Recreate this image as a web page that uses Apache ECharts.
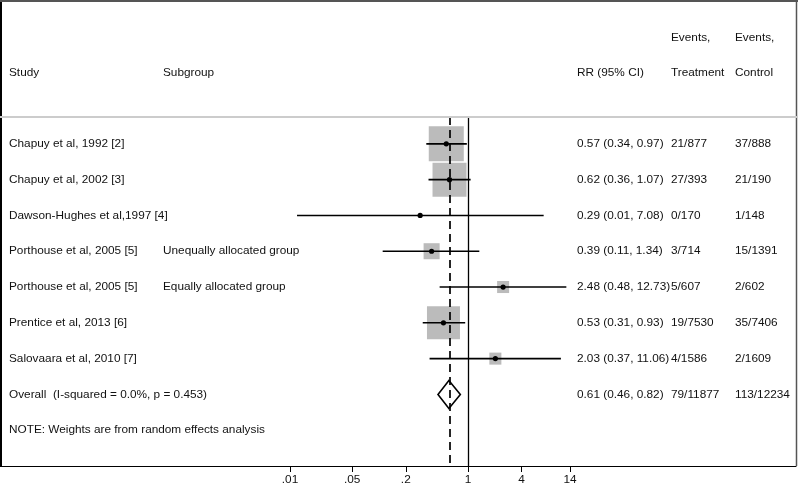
<!DOCTYPE html>
<html><head><meta charset="utf-8">
<script src="https://cdn.jsdelivr.net/npm/echarts@6/dist/echarts.min.js"></script>
<style>html,body{margin:0;padding:0;background:#fff}#c{width:798px;height:487px}</style>
</head><body><div id="c"></div>
<script>
const studies = ['Chapuy et al, 1992 [2]', 'Chapuy et al, 2002 [3]', 'Dawson-Hughes et al,1997 [4]', 'Porthouse et al, 2005 [5]', 'Porthouse et al, 2005 [5]', 'Prentice et al, 2013 [6]', 'Salovaara et al, 2010 [7]'];
const subgroups = ['', '', '', 'Unequally allocated group', 'Equally allocated group', '', ''];
const rr = [0.57, 0.62, 0.29, 0.39, 2.48, 0.53, 2.03];
const ciLow = [0.34, 0.36, 0.012, 0.11, 0.48, 0.31, 0.37];
const ciHigh = [0.97, 1.07, 7.08, 1.34, 12.73, 0.93, 11.06];
const weights = [30.5, 28.8, 0.1, 6.4, 3.6, 27.1, 3.6];
const eventsTreatment = ['21/877', '27/393', '0/170', '3/714', '5/607', '19/7530', '4/1586'];
const eventsControl = ['37/888', '21/190', '1/148', '15/1391', '2/602', '35/7406', '2/1609'];
const overallLabel = 'Overall  (I-squared = 0.0%, p = 0.453)';
const overallRR = 0.61, overallLow = 0.46, overallHigh = 0.82;
const overallEventsT = '79/11877', overallEventsC = '113/12234';
const noteText = 'NOTE: Weights are from random effects analysis';
const tickValues = [0.01, 0.05, 0.2, 1, 4, 14];
const tickLabels = ['.01', '.05', '.2', '1', '4', '14'];

const FONT = '"Liberation Sans", Arial, Helvetica, sans-serif';
const FS = 11.8;
const colX = {study: 9, subgroup: 163, ci: 577, evT: 671, evC: 735};
const fmt = v => v.toFixed(2);
const ciText = (r, l, h) => fmt(r) + ' (' + fmt(l) + ', ' + fmt(h) + ')';

const rows = studies.map((s, i) => ({
  study: s, subgroup: subgroups[i], ci: ciText(rr[i], ciLow[i], ciHigh[i]),
  evT: eventsTreatment[i], evC: eventsControl[i]
}));
rows.push({study: overallLabel, subgroup: '', ci: ciText(overallRR, overallLow, overallHigh), evT: overallEventsT, evC: overallEventsC});
rows.push({study: noteText, subgroup: '', ci: '', evT: '', evC: ''});

const chart = echarts.init(document.getElementById('c'), null, {renderer: 'canvas'});
const textStyle = (t, x, y) => ({type: 'text', x: x, y: y, style: {text: t, fill: '#111', font: FS + 'px ' + FONT, textVerticalAlign: 'middle', verticalAlign: 'middle'}});

chart.setOption({
  animation: false,
  backgroundColor: '#fff',
  grid: {left: 0, right: 2, top: 117, bottom: 21, containLabel: false},
  xAxis: {
    type: 'value', min: -5.258, max: 3.685,
    splitLine: {show: false},
    axisLine: {onZero: false, lineStyle: {color: '#000', width: 1.2}},
    axisTick: {show: true, length: 6, lineStyle: {color: '#000'}, customValues: tickValues.map(v => Math.log10(v))},
    axisLabel: {
      customValues: tickValues.map(v => Math.log10(v)), margin: 8,
      color: '#111', fontSize: FS, fontFamily: FONT,
      formatter: v => {
        let best = 0, bd = 1e9;
        tickValues.forEach((t, i) => { const d = Math.abs(Math.log10(t) - v); if (d < bd) { bd = d; best = i; } });
        return tickLabels[best];
      }
    }
  },
  yAxis: {type: 'value', min: -0.75, max: 9, inverse: true, show: false},
  graphic: [
    {type: 'line', shape: {x1: 1, y1: 0, x2: 1, y2: 466}, style: {stroke: '#000', lineWidth: 2}, z: 100},
    {type: 'line', shape: {x1: 0, y1: 1, x2: 798, y2: 1}, style: {stroke: '#555', lineWidth: 2}, z: 100},
    {type: 'line', shape: {x1: 796.5, y1: 0, x2: 796.5, y2: 466}, style: {stroke: '#555', lineWidth: 1.5}, z: 100},
    {type: 'line', shape: {x1: 0, y1: 117, x2: 798, y2: 117}, style: {stroke: '#ccc', lineWidth: 2}, z: 100},
    textStyle('Study', colX.study, 73),
    textStyle('Subgroup', colX.subgroup, 73),
    textStyle('RR (95% CI)', colX.ci, 73),
    textStyle('Events,', colX.evT, 38),
    textStyle('Treatment', colX.evT, 73),
    textStyle('Events,', colX.evC, 38),
    textStyle('Control', colX.evC, 73)
  ],
  series: [
    {
      type: 'line', data: [], z: 1,
      markLine: {
        silent: true, symbol: 'none', label: {show: false},
        data: [
          {xAxis: 0, lineStyle: {color: '#000', width: 1.3, type: 'solid'}},
          {xAxis: Math.log10(overallRR), lineStyle: {color: '#000', width: 1.7, type: [8, 5]}}
        ]
      }
    },
    {
      type: 'custom', z: 3,
      data: rr.map((v, i) => [Math.log10(v), i, Math.log10(ciLow[i]), Math.log10(ciHigh[i]), weights[i]]),
      renderItem: (params, api) => {
        const p = api.coord([api.value(0), api.value(1)]);
        const lo = api.coord([api.value(2), api.value(1)]);
        const hi = api.coord([api.value(3), api.value(1)]);
        const s = 6.34 * Math.sqrt(api.value(4));
        return {type: 'group', children: [
          {type: 'rect', shape: {x: p[0] - s / 2, y: p[1] - s / 2, width: s, height: s}, style: {fill: '#bbbbbb'}},
          {type: 'line', shape: {x1: lo[0], y1: lo[1], x2: hi[0], y2: hi[1]}, style: {stroke: '#000', lineWidth: 1.6}},
          {type: 'circle', shape: {cx: p[0], cy: p[1], r: 2.6}, style: {fill: '#000'}}
        ]};
      }
    },
    {
      type: 'custom', z: 3,
      data: [[Math.log10(overallRR), studies.length, Math.log10(overallLow), Math.log10(overallHigh)]],
      renderItem: (params, api) => {
        const p = api.coord([api.value(0), api.value(1)]);
        const lo = api.coord([api.value(2), api.value(1)]);
        const hi = api.coord([api.value(3), api.value(1)]);
        return {type: 'polygon', shape: {points: [[lo[0], p[1]], [p[0], p[1] - 14], [hi[0], p[1]], [p[0], p[1] + 14]]},
          style: {fill: 'none', stroke: '#000', lineWidth: 1.6}};
      }
    },
    {
      type: 'custom', z: 4,
      data: rows.map((r, i) => [0, i]),
      renderItem: (params, api) => {
        const y = api.coord([0, api.value(1)])[1];
        const r = rows[params.dataIndex];
        const els = [];
        [['study', colX.study], ['subgroup', colX.subgroup], ['ci', colX.ci], ['evT', colX.evT], ['evC', colX.evC]].forEach(([k, x]) => {
          if (r[k]) els.push(textStyle(r[k], x, y));
        });
        return {type: 'group', children: els};
      }
    }
  ]
});
</script></body></html>
